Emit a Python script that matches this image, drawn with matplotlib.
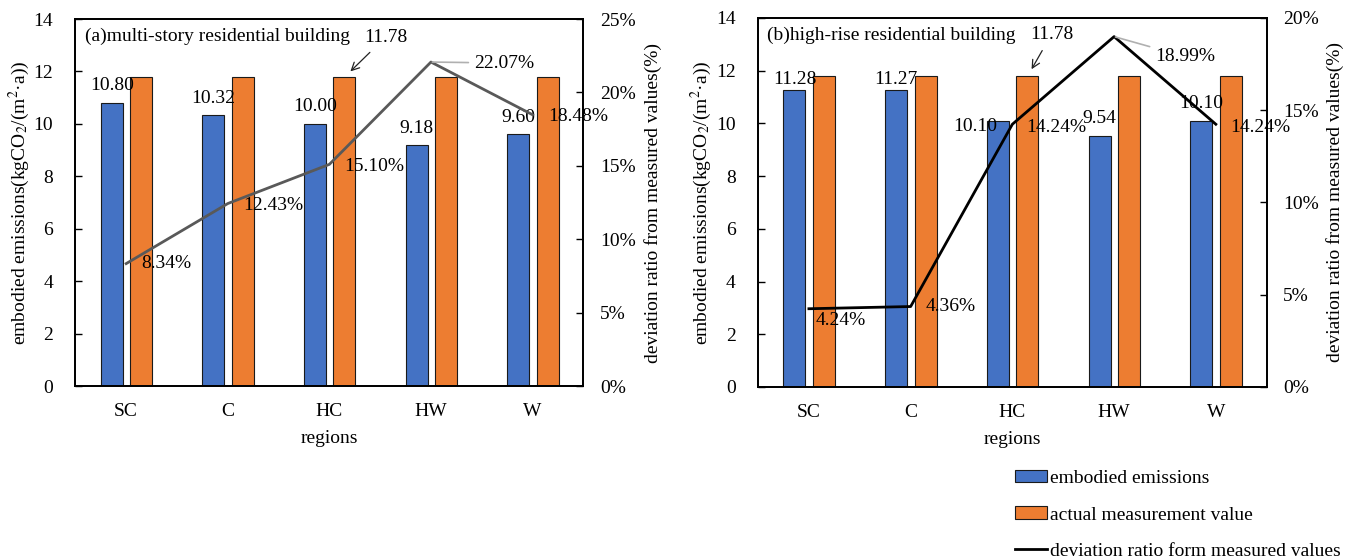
import numpy as np
import matplotlib
matplotlib.use('Agg')
import matplotlib.pyplot as plt
from matplotlib.patches import Patch
from matplotlib.lines import Line2D
from matplotlib.ticker import FuncFormatter

plt.rcParams['font.family'] = ['Liberation Serif', 'DejaVu Serif']
plt.rcParams['mathtext.fontset'] = 'stix'
plt.rcParams['font.size'] = 14

# datos
regions = ['SC', 'C', 'HC', 'HW', 'W']
measured = [11.78, 11.78, 11.78, 11.78, 11.78]

multi_embodied = [10.80, 10.32, 10.00, 9.18, 9.60]
multi_deviation = [8.34, 12.43, 15.10, 22.07, 18.48]

high_embodied = [11.28, 11.27, 10.10, 9.54, 10.10]
high_deviation = [4.24, 4.36, 14.24, 18.99, 14.24]

BLUE = '#4472C4'
ORANGE = '#ED7D31'
PX = 0.72  # puntos por pixel a 100 dpi


def dibujar_panel(fig, rect, titulo, embodied, deviation, ratio_max, color_linea,
                  off_barras, off_pct, idx_guia, off_flecha, pos_ylabels):
    """
    Dibuja un panel con barras (emisiones y valor medido) y la linea de desviacion
    """
    ax = fig.add_axes(rect)
    x = np.arange(len(regions))
    w = 0.216

    ax.bar(x - 0.142, embodied, w, color=BLUE, edgecolor='#1a1a1a', linewidth=0.8, zorder=2)
    ax.bar(x + 0.148, measured, w, color=ORANGE, edgecolor='#1a1a1a', linewidth=0.8, zorder=2)

    ax.set_xlim(-0.5, len(regions) - 0.5)
    ax.set_ylim(0, 14)
    ax.set_yticks(range(0, 15, 2))
    ax.set_xticks(x)
    ax.set_xticklabels(regions)
    ax.tick_params(axis='x', length=0, pad=12)
    ax.tick_params(axis='y', direction='in', length=5, width=1, pad=16)
    for s in ax.spines.values():
        s.set_linewidth(1.3)

    ax.set_xlabel('regions')
    ax.xaxis.set_label_coords(0.5, -0.12)
    ax.set_ylabel('embodied emissions(kgCO$_2$/(m$^2$·a))')
    ax.yaxis.set_label_coords(pos_ylabels[0], 0.5)

    # etiquetas de las barras azules
    for i, v in enumerate(embodied):
        dx, dy = off_barras[i]
        ax.annotate(f'{v:.2f}', xy=(i - 0.142, v), xytext=(dx * PX, dy * PX),
                    textcoords='offset points', ha='center', va='center', zorder=4)

    # valor medido con flecha sobre HC
    ax.annotate(f'{measured[2]:.2f}', xy=(2 + 0.148, measured[2]),
                xytext=(off_flecha[0] * PX, off_flecha[1] * PX), textcoords='offset points',
                ha='center', va='center',
                arrowprops=dict(arrowstyle='->', color='#222222', lw=0.9,
                                shrinkA=4, shrinkB=6, mutation_scale=14))

    ax.text(0.018, 0.952, titulo, transform=ax.transAxes, ha='left', va='center')

    # eje secundario con la desviacion
    ax2 = ax.twinx()
    ax2.plot(x, deviation, color=color_linea, linewidth=2, zorder=3)
    ax2.set_ylim(0, ratio_max)
    ax2.set_yticks(range(0, ratio_max + 1, 5))
    ax2.yaxis.set_major_formatter(FuncFormatter(lambda v, p: f'{v:.0f}%'))
    ax2.tick_params(axis='y', direction='in', length=5, width=1, pad=12)
    for s in ax2.spines.values():
        s.set_linewidth(1.3)
    ax2.set_ylabel('deviation ratio from measured values(%)')
    ax2.yaxis.set_label_coords(pos_ylabels[1], 0.5)

    for i, v in enumerate(deviation):
        dx, dy = off_pct[i]
        if i == idx_guia:
            ax2.annotate(f'{v:.2f}%', xy=(i, v), xytext=(dx * PX, dy * PX),
                         textcoords='offset points', ha='left', va='center',
                         arrowprops=dict(arrowstyle='-', color='#b0b0b0', lw=1.2,
                                         shrinkA=2, shrinkB=1))
        else:
            ax2.annotate(f'{v:.2f}%', xy=(i, v), xytext=(dx * PX, dy * PX),
                         textcoords='offset points', ha='left', va='center')
    return ax, ax2


fig = plt.figure(figsize=(13.51, 5.58), dpi=100)

dibujar_panel(fig, [0.0558, 0.3082, 0.376, 0.6577],
              '(a)multi-story residential building',
              multi_embodied, multi_deviation, 25, '#595959',
              off_barras=[(0, 17), (0, 17), (0, 17), (0, 17), (0, 17)],
              off_pct=[(15, 0), (15, -1.5), (15, -2), (43, -1), (16, -2)],
              idx_guia=3, off_flecha=(41, 40), pos_ylabels=(-0.085, 1.119))

dibujar_panel(fig, [0.5611, 0.3065, 0.3765, 0.6613],
              '(b)high-rise residential building',
              high_embodied, high_deviation, 20, 'black',
              off_barras=[(0, 10), (0, 10), (-23, -6), (0, 17), (0, 17)],
              off_pct=[(6.5, -12), (15, 0), (14, -3), (41, -20), (14.5, -3)],
              idx_guia=3, off_flecha=(24, 42), pos_ylabels=(-0.0865, 1.117))

# leyenda comun
handles = [Patch(facecolor=BLUE, edgecolor='#1a1a1a', linewidth=0.8),
           Patch(facecolor=ORANGE, edgecolor='#1a1a1a', linewidth=0.8),
           Line2D([], [], color='black', linewidth=2)]
labels = ['embodied emissions', 'actual measurement value',
          'deviation ratio form measured values']
fig.legend(handles, labels, loc='upper left', bbox_to_anchor=(1015 / 1351, 1 - 470 / 558),
           frameon=False, borderpad=0, borderaxespad=0, labelspacing=1.0,
           handlelength=1.65, handleheight=0.6, handletextpad=0.15)

fig.savefig('out.png', dpi=100)
